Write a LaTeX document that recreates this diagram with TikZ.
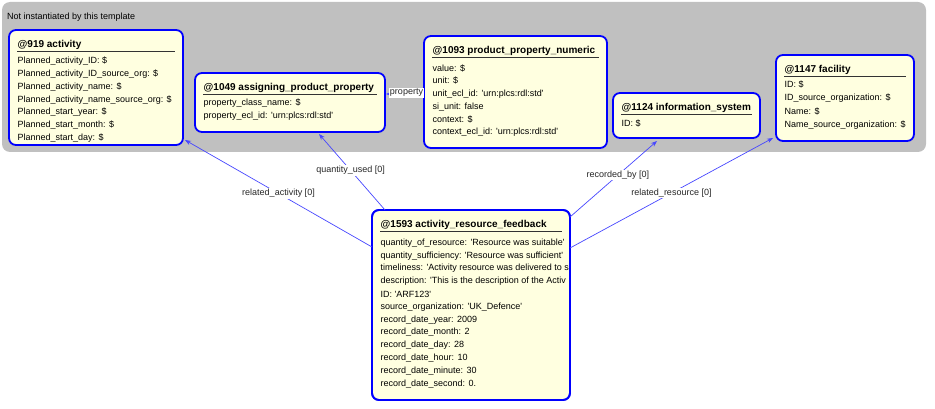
\documentclass[tikz,border=0pt]{standalone}
\usepackage{fontspec}
\setmainfont{Liberation Sans}
\usetikzlibrary{calc,arrows.meta}
\definecolor{bgray}{RGB}{192,192,192}
\definecolor{boxfill}{RGB}{255,255,224}
\definecolor{boxline}{RGB}{0,0,255}
\definecolor{conn}{RGB}{70,70,255}
\newcommand{\sq}{\textquotesingle}
\tikzset{
  cls/.style={draw=boxline, line width=1.8pt, fill=boxfill, rounded corners=7pt, anchor=north west, inner sep=0pt, outer sep=0pt},
  ttl/.style={anchor=west, font=\fontsize{10}{12}\selectfont\bfseries, inner sep=0pt},
  attr/.style={anchor=west, font=\fontsize{9}{11}\selectfont, inner sep=0pt},
  uline/.style={draw=black!80, line width=0.9pt},
  rel/.style={draw=conn, line width=0.7pt, -{Stealth[length=6pt,width=4.5pt]}},
  lbl/.style={fill=white, font=\fontsize{9}{11}\selectfont, inner sep=1pt, text=black!85},
  grpbox/.style={fill=bgray, rounded corners=8pt, anchor=north west, inner sep=0pt, outer sep=0pt}
}
\begin{document}
\begin{tikzpicture}[x=1pt,y=-1pt]
\useasboundingbox (0,0) rectangle (935,409);
% group region
\node[grpbox, minimum width=924pt, minimum height=150pt] (grp) at (2,2) {};
\node[attr] (grptitle) at (7,17) {Not instantiated by this template};

% class boxes
\node[cls, minimum width=174pt, minimum height=115pt] (act) at (9,30) {};
\node[cls, minimum width=190pt, minimum height=59pt] (apm) at (195,73) {};
\node[cls, minimum width=183pt, minimum height=112pt] (ppn) at (424,36) {};
\node[cls, minimum width=147pt, minimum height=45pt] (isys) at (613,93) {};
\node[cls, minimum width=138pt, minimum height=86pt] (fac) at (776,55) {};
\node[cls, minimum width=198pt, minimum height=190pt] (fb) at (372,210) {};

% titles and underlines
\foreach \b/\t in {act/{@919 activity}, apm/{@1049 assigning\_product\_property}, ppn/{@1093 product\_property\_numeric}, isys/{@1124 information\_system}, fac/{@1147 facility}, fb/{@1593 activity\_resource\_feedback}} {
  \node[ttl] (\b-title) at ($(\b.north west)+(8.5,14.5)$) {\t};
  \draw[uline] ($(\b.north west)+(8,21)$) -- ($(\b.north east)+(-8,21)$);
}

% attributes
\foreach [count=\i] \t in {{Planned\_activity\_ID: \$}, {Planned\_activity\_ID\_source\_org: \$}, {Planned\_activity\_name: \$}, {Planned\_activity\_name\_source\_org: \$}, {Planned\_start\_year: \$}, {Planned\_start\_month: \$}, {Planned\_start\_day: \$}}
  \node[attr] (act-\i) at ($(act.north west)+(8.5,31+12.9*\i-12.9)$) {\t};

\foreach [count=\i] \t in {{property\_class\_name: \$}, {property\_ecl\_id: \sq urn:plcs:rdl:std\sq}}
  \node[attr] (apm-\i) at ($(apm.north west)+(8.5,30.5+13*\i-13)$) {\t};

\foreach [count=\i] \t in {{value: \$}, {unit: \$}, {unit\_ecl\_id: \sq urn:plcs:rdl:std\sq}, {si\_unit: false}, {context: \$}, {context\_ecl\_id: \sq urn:plcs:rdl:std\sq}}
  \node[attr] (ppn-\i) at ($(ppn.north west)+(8.5,32+12.9*\i-12.9)$) {\t};

\node[attr] (isys-1) at ($(isys.north west)+(8.5,30.5)$) {ID: \$};

\foreach [count=\i] \t in {{ID: \$}, {ID\_source\_organization: \$}, {Name: \$}, {Name\_source\_organization: \$}}
  \node[attr] (fac-\i) at ($(fac.north west)+(8.5,29.5+13.5*\i-13.5)$) {\t};

\begin{scope}
\clip ($(fb.north west)+(1,1)$) rectangle ($(fb.south east)+(-1.5,-1)$);
\foreach [count=\i] \t in {{quantity\_of\_resource: \sq Resource was suitable\sq}, {quantity\_sufficiency: \sq Resource was sufficient\sq}, {timeliness: \sq Activity resource was delivered to s}, {description: \sq This is the description of the Activ}, {ID: \sq ARF123\sq}, {source\_organization: \sq UK\_Defence\sq}, {record\_date\_year: 2009}, {record\_date\_month: 2}, {record\_date\_day: 28}, {record\_date\_hour: 10}, {record\_date\_minute: 30}, {record\_date\_second: 0.}}
  \node[attr] (fb-\i) at ($(fb.north west)+(8.5,33+12.8*\i-12.8)$) {\t};
\end{scope}
\draw[draw=boxline, line width=1.8pt, rounded corners=7pt] (fb.north west) rectangle (fb.south east);

% connectors
\draw[rel] ($(ppn.north west)+(0,58)$) -- ($(apm.north east)+(1,21)$);
\node[lbl] (plbl) at (406.5,93) {property};

\draw[rel] ($(fb.north west)+(0,37)$) -- ($(act.south east)+(2,-5)$)
  node[lbl, pos=0.5] (lra) {related\_activity [0]};
\draw[rel] ($(fb.north west)+(13,0)$) -- ($(apm.south west)+(124,2)$)
  node[lbl, pos=0.52] (lqu) {quantity\_used [0]};
\draw[rel] ($(fb.north east)+(0,7)$) -- ($(isys.south west)+(44,3)$)
  node[lbl, pos=0.55] (lrb) {recorded\_by [0]};
\draw[rel] ($(fb.north east)+(0,38)$) -- ($(fac.south west)+(-3,-3)$)
  node[lbl, pos=0.5] (lrr) {related\_resource [0]};
\end{tikzpicture}
\end{document}
